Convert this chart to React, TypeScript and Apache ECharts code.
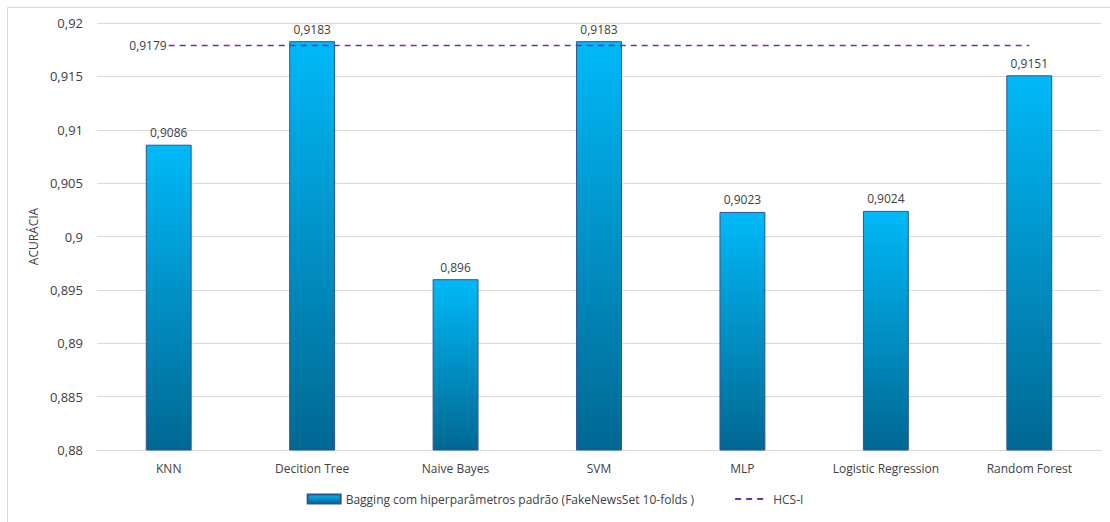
import React, { useEffect, useRef } from "react";
import * as echarts from "echarts";

const categories = ["KNN", "Decition Tree", "Naive Bayes", "SVM", "MLP", "Logistic Regression", "Random Forest"];
const baggingValues = [0.9086, 0.9183, 0.896, 0.9183, 0.9023, 0.9024, 0.9151];
const hcsValue = 0.9179;
const hcsValues = categories.map(() => hcsValue);
const barSeriesName = "Bagging com hiperparâmetros padrão (FakeNewsSet 10-folds )";
const lineSeriesName = "HCS-I";

const fmt = (v: number) => String(v).replace(".", ",");
const FONT = "'Open Sans', 'Liberation Sans', sans-serif";

export default function App() {
  const ref = useRef<HTMLDivElement>(null);
  useEffect(() => {
    document.body.style.margin = "0";
    const chart = echarts.init(ref.current!, null, { renderer: "svg" });
    const grad = new echarts.graphic.LinearGradient(0, 0, 0, 1, [
      { offset: 0, color: "#00B9F8" },
      { offset: 1, color: "#006892" },
    ]);
    chart.setOption({
      animation: false,
      backgroundColor: "#ffffff",
      textStyle: { fontFamily: FONT },
      grid: { left: 97, right: 9, top: 23, bottom: 72 },
      graphic: [
        { type: "line", shape: { x1: 7.5, y1: 7.5, x2: 1110, y2: 7.5 }, style: { stroke: "#D9D9D9", lineWidth: 1 } },
        { type: "line", shape: { x1: 7.5, y1: 7.5, x2: 7.5, y2: 522 }, style: { stroke: "#D9D9D9", lineWidth: 1 } },
      ],
      legend: {
        bottom: 12,
        left: "center",
        itemGap: 40,
        itemWidth: 33,
        itemHeight: 9,
        textStyle: { fontFamily: FONT, fontSize: 12, color: "#404040" },
        data: [
          { name: barSeriesName, icon: "rect" },
          {
            name: lineSeriesName,
            itemStyle: { color: "transparent", borderColor: "transparent", borderWidth: 0 },
          },
        ],
      },
      xAxis: {
        type: "category",
        data: categories,
        axisLine: { lineStyle: { color: "#D9D9D9" } },
        axisTick: { show: false },
        axisLabel: { color: "#404040", fontSize: 12, fontFamily: FONT, margin: 12 },
      },
      yAxis: {
        type: "value",
        min: 0.88,
        max: 0.92,
        interval: 0.005,
        name: "ACURÁCIA",
        nameLocation: "middle",
        nameRotate: 90,
        nameGap: 58,
        nameTextStyle: { color: "#404040", fontSize: 12, fontFamily: FONT },
        axisLine: { show: false },
        axisTick: { show: false },
        splitLine: { lineStyle: { color: "#D9D9D9" } },
        axisLabel: {
          color: "#404040",
          fontSize: 13,
          fontFamily: FONT,
          margin: 14,
          formatter: (v: number) => fmt(parseFloat(v.toFixed(4))),
        },
      },
      series: [
        {
          name: barSeriesName,
          type: "bar",
          data: baggingValues,
          barWidth: "32%",
          itemStyle: { color: grad, borderColor: "#2F5597", borderWidth: 1 },
          label: {
            show: true,
            position: "top",
            distance: 6,
            color: "#404040",
            fontSize: 12,
            fontFamily: FONT,
            formatter: (p: any) => fmt(p.value),
          },
        },
        {
          name: lineSeriesName,
          type: "line",
          data: hcsValues,
          symbol: "none",
          lineStyle: { color: "#7030A0", width: 1.5, type: [6, 5] },
          itemStyle: { color: "#7030A0" },
          label: { show: false },
          markPoint: {
            symbol: "circle",
            symbolSize: 0,
            data: [{ coord: [0, hcsValue], value: hcsValue }],
            label: {
              show: true,
              position: "left",
              distance: 2,
              color: "#404040",
              fontSize: 12,
              fontFamily: FONT,
              formatter: () => fmt(hcsValue),
            },
          },
          z: 3,
        },
      ],
    });
    return () => chart.dispose();
  }, []);
  return <div ref={ref} style={{ width: 1110, height: 522 }} />;
}
